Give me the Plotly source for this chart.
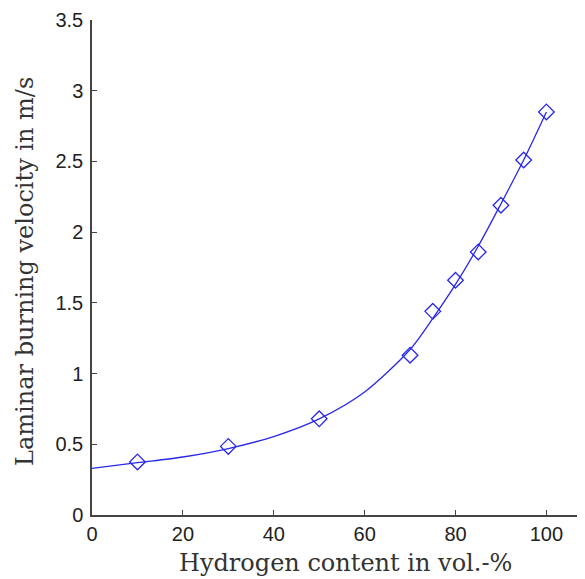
import plotly.graph_objects as go

# Measured data points
h2_content = [10, 30, 50, 70, 75, 80, 85, 90, 95, 100]
burning_velocity = [0.375, 0.485, 0.68, 1.13, 1.44, 1.66, 1.86, 2.19, 2.51, 2.85]

# Fitted curve
fit_x = [0, 10, 20, 30, 40, 50, 60, 70, 75, 80, 85, 90, 95, 100]
fit_y = [0.33, 0.37, 0.41, 0.47, 0.555, 0.68, 0.87, 1.17, 1.39, 1.63, 1.9, 2.2, 2.51, 2.85]

x_ticks = [0, 20, 40, 60, 80, 100]
y_ticks = [0, 0.5, 1, 1.5, 2, 2.5, 3, 3.5]
y_tick_text = ["0", "0.5", "1", "1.5", "2", "2.5", "3", "3.5"]

blue = "rgb(40,40,235)"
axis_col = "#444444"

fig = go.Figure()
fig.add_trace(go.Scatter(x=fit_x, y=fit_y, mode="lines",
                         line=dict(color=blue, width=1.3, shape="spline", smoothing=0.8),
                         showlegend=False, hoverinfo="skip"))
fig.add_trace(go.Scatter(x=h2_content, y=burning_velocity, mode="markers",
                         marker=dict(symbol="diamond-open", size=12, color=blue,
                                     line=dict(width=1.3, color=blue)),
                         showlegend=False))

tick_font = dict(family="Liberation Sans, Arial, sans-serif", size=20, color="#222222")
title_font = dict(family="DejaVu Serif, Liberation Serif, serif", size=24, color="#333333")

fig.update_layout(
    width=585, height=579,
    margin=dict(l=84, r=8, t=12, b=72),
    paper_bgcolor="white", plot_bgcolor="white",
    xaxis=dict(range=[0, 108.5], tickvals=x_ticks, ticks="inside", ticklen=5,
               tickcolor=axis_col, showline=True, linecolor=axis_col, linewidth=1.5,
               showgrid=False, zeroline=False, tickfont=tick_font, ticklabelstandoff=0,
               automargin=False),
    yaxis=dict(range=[0, 3.5], tickvals=y_ticks, ticktext=y_tick_text, ticks="inside",
               ticklen=5, tickcolor=axis_col, showline=True, linecolor=axis_col,
               linewidth=1.5, showgrid=False, zeroline=False, tickfont=tick_font,
               ticklabelstandoff=3, automargin=False),
    annotations=[
        dict(text="Hydrogen content in vol.-%", xref="paper", yref="paper",
             x=0.515, y=-0.097, xanchor="center", yanchor="middle", showarrow=False,
             font=title_font),
        dict(text="Laminar burning velocity in m/s", xref="paper", yref="paper",
             x=-0.136, y=0.493, xanchor="center", yanchor="middle", textangle=-90,
             showarrow=False, font=title_font),
    ],
)

fig.write_html("out.html")
